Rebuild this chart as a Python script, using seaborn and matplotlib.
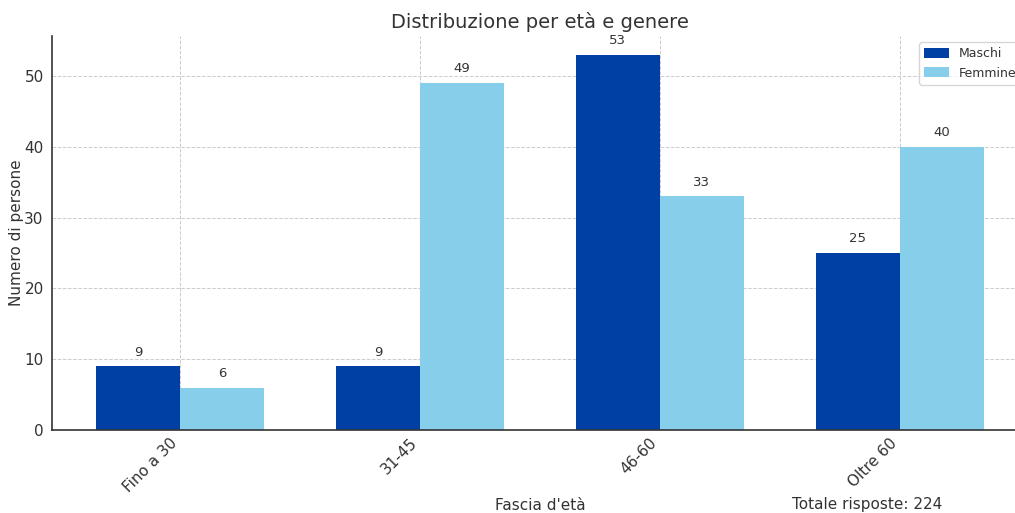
import matplotlib
matplotlib.use("Agg")
import matplotlib.pyplot as plt
import seaborn as sns
import pandas as pd

categories = ["Fino a 30", "31-45", "46-60", "Oltre 60"]
maschi = [9, 9, 53, 25]
femmine = [6, 49, 33, 40]
series_names = ["Maschi", "Femmine"]
total_label = "Totale risposte: 224"

df = pd.DataFrame({
    "Fascia": categories * 2,
    "Genere": [series_names[0]] * 4 + [series_names[1]] * 4,
    "Valore": maschi + femmine,
})

sns.set_style("white")
plt.rcParams['font.family'] = ['DejaVu Sans']
txt = "#333333"

fig = plt.figure(figsize=(10.15, 5.13), dpi=100)
ax = fig.add_axes([0.0512, 0.1618, 0.9616, 0.768])

sns.barplot(data=df, x="Fascia", y="Valore", hue="Genere", order=categories,
            hue_order=series_names, palette=["#003FA3", "#87CEEB"],
            width=0.7, ax=ax, saturation=1, edgecolor="none", linewidth=0)

for c in ax.containers:
    ax.bar_label(c, padding=5.5, fontsize=9.5, color=txt)

ax.set_xlim(-0.535, 3.535)
ax.set_ylim(0, 55.65)
ax.set_title("Distribuzione per età e genere", fontsize=14, color=txt)
ax.set_xlabel("Fascia d'età", fontsize=11, color=txt, labelpad=2)
ax.set_ylabel("Numero di persone", fontsize=11, color=txt, labelpad=0)
ax.set_xticks(range(len(categories)))
ax.set_xticklabels(categories, rotation=45, ha="right", fontsize=11, color=txt)
ax.tick_params(axis="y", labelsize=11, colors=txt, left=False, length=0, pad=6)
ax.tick_params(axis="x", bottom=False, length=0, colors=txt, pad=4)
ax.grid(True, linestyle="--", color="#cccccc", linewidth=0.7)
ax.set_axisbelow(True)
for s in ["top", "right"]:
    ax.spines[s].set_visible(False)
for s in ["left", "bottom"]:
    ax.spines[s].set_color(txt)
    ax.spines[s].set_linewidth(1.2)

ax.legend(title=None, loc="upper right", fontsize=9, frameon=True, edgecolor="#cccccc",
          handlelength=2.0, handleheight=0.9)
for t in ax.get_legend().get_texts():
    t.set_color(txt)

fig.text(867 / 1015, 1 - 505 / 513, total_label, ha="center", va="center", fontsize=11, color=txt)

fig.savefig("out.png", dpi=100)
